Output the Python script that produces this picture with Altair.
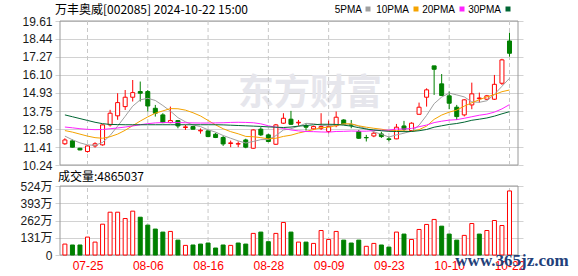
import json
import altair as alt
import pandas as pd

# ---------------- data ----------------
dates = ["07-22","07-23","07-24","07-25","07-26","07-29","07-30","07-31","08-01","08-02",
         "08-05","08-06","08-07","08-08","08-09","08-12","08-13","08-14","08-15","08-16",
         "08-19","08-20","08-21","08-22","08-23","08-26","08-27","08-28","08-29","08-30",
         "09-02","09-03","09-04","09-05","09-06","09-09","09-10","09-11","09-12","09-13",
         "09-18","09-19","09-20","09-23","09-24","09-25","09-26","09-27","09-30","10-08",
         "10-09","10-10","10-11","10-14","10-15","10-16","10-17","10-18","10-21","10-22"]

opens = [11.62,11.81,11.33,11.12,11.48,11.55,12.85,13.44,14.04,14.65,
         15.02,15.02,13.93,13.50,13.00,13.13,12.68,12.74,12.46,12.46,
         12.24,12.03,11.64,11.60,11.87,11.33,12.57,12.20,11.59,12.96,
         13.22,12.98,12.80,12.59,12.63,12.42,12.80,13.17,12.87,12.42,
         12.03,12.13,12.26,11.94,11.94,12.78,12.48,13.54,14.65,16.69,
         15.52,14.74,14.00,13.50,14.15,14.56,14.52,14.52,15.56,18.31]
highs = [11.98,11.90,11.36,11.53,11.72,12.88,13.83,14.91,15.12,15.77,
         15.67,15.12,14.15,13.61,14.04,13.17,12.85,12.76,12.62,12.52,
         12.33,12.13,11.83,11.78,11.95,12.56,12.70,12.27,12.91,13.61,
         13.76,13.17,12.96,12.80,13.61,13.13,13.72,13.22,13.17,12.52,
         12.20,12.42,12.40,12.09,12.91,13.11,13.02,14.30,15.23,16.69,
         16.16,15.02,14.15,14.52,15.60,14.95,14.80,16.10,17.15,18.85]
lows = [11.55,11.38,11.20,11.05,11.37,11.50,12.74,13.18,13.82,14.37,
        14.37,13.72,13.39,12.96,12.96,12.63,12.52,12.55,12.28,12.05,
        11.99,11.48,11.40,11.40,11.33,11.30,12.13,11.72,11.55,12.91,
        12.85,12.80,12.48,12.52,12.52,12.31,12.70,12.85,12.63,11.94,
        11.77,12.05,12.00,11.78,11.92,12.46,12.40,13.54,14.04,14.80,
        14.76,13.87,13.17,13.40,13.87,14.30,14.47,14.47,15.45,17.29]
closes = [11.87,11.40,11.22,11.48,11.62,12.85,13.61,14.30,14.65,14.95,
          14.91,14.08,13.61,13.00,13.13,12.78,12.72,12.57,12.50,12.09,
          12.03,11.61,11.68,11.63,11.40,12.52,12.20,11.77,12.85,13.28,
          12.89,13.02,12.70,12.74,12.74,12.74,13.35,12.89,12.83,11.98,
          12.01,12.31,12.09,11.90,12.70,12.57,12.96,14.00,15.13,16.47,
          14.76,14.26,13.39,14.48,14.87,14.60,14.74,15.49,17.08,17.51]

ma5 = [12.12,11.88,11.68,11.55,11.52,11.71,12.16,12.77,13.41,14.07,
       14.48,14.58,14.44,14.11,13.75,13.32,13.05,12.84,12.74,12.53,
       12.38,12.16,11.98,11.81,11.67,11.77,11.89,11.90,12.15,12.52,
       12.60,12.76,12.95,12.93,12.82,12.79,12.85,12.89,12.91,12.76,
       12.61,12.40,12.24,12.06,12.20,12.31,12.44,12.83,13.47,14.23,
       14.66,14.92,14.80,14.67,14.35,14.32,14.42,14.84,15.36,15.88]
ma10 = [12.48,12.38,12.25,12.12,12.02,11.98,12.08,12.25,12.50,12.80,
        13.10,13.37,13.61,13.76,13.91,13.90,13.81,13.64,13.43,13.14,
        12.85,12.60,12.41,12.27,12.10,12.08,12.02,11.94,11.98,12.10,
        12.18,12.32,12.43,12.54,12.67,12.69,12.81,12.92,12.92,12.79,
        12.70,12.63,12.57,12.48,12.48,12.46,12.42,12.54,12.77,13.21,
        13.49,13.68,13.81,14.07,14.29,14.49,14.67,14.82,15.01,15.12]
ma20 = [12.71,12.66,12.60,12.56,12.54,12.55,12.60,12.65,12.71,12.78,
        12.86,12.93,12.98,13.00,13.00,13.00,12.99,12.98,12.97,12.97,
        12.98,12.99,13.01,13.02,13.01,12.99,12.92,12.79,12.70,12.62,
        12.52,12.46,12.42,12.41,12.39,12.38,12.42,12.43,12.45,12.44,
        12.44,12.48,12.50,12.51,12.58,12.58,12.62,12.73,12.84,13.00,
        13.09,13.16,13.19,13.28,13.38,13.48,13.55,13.68,13.89,14.17]
ma30 = [13.50,13.38,13.26,13.14,13.02,12.93,12.88,12.87,12.86,12.86,
        12.86,12.86,12.86,12.86,12.86,12.86,12.86,12.86,12.86,12.86,
        12.86,12.85,12.83,12.81,12.79,12.77,12.75,12.72,12.70,12.68,
        12.71,12.77,12.81,12.86,12.89,12.89,12.88,12.83,12.77,12.67,
        12.58,12.52,12.47,12.43,12.42,12.41,12.42,12.47,12.55,12.70,
        12.79,12.88,12.94,13.03,13.15,13.22,13.30,13.42,13.57,13.71]

vol_wan = [83,76,76,136,98,234,325,325,277,333,
           287,227,197,174,179,113,73,76,83,91,
           53,76,73,91,83,164,174,101,164,247,
           174,98,98,88,186,118,179,113,91,113,
           66,88,76,60,174,159,118,194,232,270,
           219,159,113,149,239,159,186,262,224,486.5]
vol_up = [1,0,0,1,1,1,1,1,1,1,
          0,0,0,0,1,0,1,0,0,0,
          0,0,1,0,0,1,0,0,1,1,
          0,1,0,1,1,1,1,0,0,0,
          1,1,0,0,1,0,1,1,1,1,
          0,0,0,1,1,0,1,1,1,1]

price_ticks = [10.24, 11.41, 12.58, 13.75, 14.93, 16.10, 17.27, 18.44, 19.61]
vol_ticks = [0, 131, 262, 393, 524]
label_idx = [3, 11, 19, 27, 35, 43, 51, 59]
ma_names = ["5PMA", "10PMA", "20PMA", "30PMA"]
title_text = "万丰奥威[002085] 2024-10-22 15:00"
vol_title = "成交量:4865037"
watermark = "东方财富"
site_mark = "www.365jz.com"

# ---------------- styling ----------------
RED = "#ff0000"
GREEN = "#008000"
MA_COLORS = ["#a0a0a0", "#f5a300", "#ff22ff", "#006633"]
GRID = "#d2d2d2"
FRAME = "#9a9a9a"
NUM_FONT = "Liberation Sans"
CJK_FONT = "Noto Sans CJK SC"

W, H = 468, 234
X_DOMAIN = [-0.649, 60.13]

n = len(dates)
df = pd.DataFrame({
    "i": list(range(n)), "open": opens, "high": highs, "low": lows, "close": closes,
    "vol": vol_wan, "vup": vol_up,
    "ma5": ma5, "ma10": ma10, "ma20": ma20, "ma30": ma30,
})
grid_df = pd.DataFrame({"i": label_idx, "plo": price_ticks[0], "phi": price_ticks[-1],
                        "vlo": vol_ticks[0], "vhi": vol_ticks[-1]})
frame_df = pd.DataFrame({"x0": [X_DOMAIN[0]], "x1": [X_DOMAIN[1]],
                         "plo": [price_ticks[0]], "phi": [price_ticks[-1]],
                         "vlo": [vol_ticks[0]], "vhi": [vol_ticks[-1]]})

x_axis = alt.Axis(values=label_idx, labelExpr=f"{json.dumps(dates)}[datum.value]",
                  grid=False, domain=False, ticks=False, labelPadding=5,
                  labelColor=RED, labelFontSize=12, labelFont=NUM_FONT,
                  labelFlush=False, labelOverlap=False, title=None)
xscale = alt.Scale(domain=X_DOMAIN, nice=False, zero=False)


def X(field):
    return alt.X(f"{field}:Q", scale=xscale, axis=x_axis)


price_axis = alt.Axis(values=price_ticks, format=".2f", grid=True, gridColor=GRID,
                      domain=False, ticks=False, labelPadding=3, labelFontSize=12,
                      labelFont=NUM_FONT, labelColor="#1a1a1a", title=None,
                      labelOverlap=False, orient="left")
pscale = alt.Scale(domain=[price_ticks[0], price_ticks[-1]], range=[144, 0],
                   nice=False, zero=False)


def PY(field):
    return alt.Y(f"{field}:Q", scale=pscale, axis=price_axis)


vol_axis = alt.Axis(values=vol_ticks,
                    labelExpr="datum.value == 0 ? '0' : datum.value + '万'",
                    grid=True, gridColor=GRID, domain=False, ticks=False,
                    labelPadding=3, labelFontSize=12, labelFont=NUM_FONT + ", " + CJK_FONT,
                    labelColor="#1a1a1a", title=None, labelOverlap=False, orient="left")
vscale = alt.Scale(domain=[vol_ticks[0], vol_ticks[-1]], range=[234, 165],
                   nice=False, zero=False)


def VY(field):
    return alt.Y(f"{field}:Q", scale=vscale, axis=vol_axis)


up_cond = alt.datum.close >= alt.datum.open
stroke_c = alt.when(up_cond).then(alt.value(RED)).otherwise(alt.value(GREEN))
fill_c = alt.when(up_cond).then(alt.value("#ffffff")).otherwise(alt.value(GREEN))
vstroke = alt.when(alt.datum.vup == 1).then(alt.value(RED)).otherwise(alt.value(GREEN))
vfill = alt.when(alt.datum.vup == 1).then(alt.value("#ffffff")).otherwise(alt.value(GREEN))

base = alt.Chart(df)

# ---------------- price panel ----------------
p_frame = alt.Chart(frame_df).mark_rect(fill="transparent", stroke=FRAME, strokeWidth=1).encode(
    x=X("x0"), x2="x1:Q", y=PY("plo"), y2="phi:Q")
p_vgrid = alt.Chart(grid_df).mark_rule(color="#c8c8c8", strokeDash=[4, 3], strokeWidth=1).encode(
    x=X("i"), y=PY("plo"), y2="phi:Q")
wicks = base.mark_rule(strokeWidth=1).encode(x=X("i"), y=PY("low"), y2="high:Q", color=stroke_c)
bodies = base.mark_bar(width=4, strokeWidth=1).encode(
    x=X("i"), y=PY("open"), y2="close:Q", fill=fill_c, stroke=stroke_c)
ma_lines = [
    base.mark_line(strokeWidth=1, color=c, interpolate="linear").encode(x=X("i"), y=PY(f))
    for f, c in zip(["ma5", "ma10", "ma20", "ma30"], MA_COLORS)
]
price_group = alt.layer(p_frame, p_vgrid, wicks, bodies, *ma_lines)

# ---------------- volume panel ----------------
v_frame = alt.Chart(frame_df).mark_rect(fill="transparent", stroke=FRAME, strokeWidth=1).encode(
    x=X("x0"), x2="x1:Q", y=VY("vlo"), y2="vhi:Q")
v_vgrid = alt.Chart(grid_df).mark_rule(color="#c8c8c8", strokeDash=[4, 3], strokeWidth=1).encode(
    x=X("i"), y=VY("vlo"), y2="vhi:Q")
vbars = base.mark_bar(width=4, strokeWidth=1).encode(
    x=X("i"), y=VY("vol"), y2=alt.datum(0), fill=vfill, stroke=vstroke)
vol_group = alt.layer(v_frame, v_vgrid, vbars)


# ---------------- text annotations ----------------
def label(text, x, y, align="left", size=12, font=CJK_FONT, color="#000000", weight="normal"):
    return alt.Chart(pd.DataFrame({"t": [text]})).mark_text(
        align=align, baseline="middle", fontSize=size, font=font, color=color,
        fontWeight=weight).encode(x=alt.value(x), y=alt.value(y), text="t:N")


wm = label(watermark, 255, 73, align="center", size=36, color="#e6e6ec", weight="bold")
title = label(title_text, 0, -11.5)
vtitle = label(vol_title, 3, 156)
site = label(site_mark, 457, 240, align="center", size=17, font="Liberation Serif",
             color="#22407a", weight="bold")

legend_layers = []
text_right = [307, 354, 400, 446]
square_x = [313, 361, 407, 453]
for name, c, tx, sx in zip(ma_names, MA_COLORS, text_right, square_x):
    legend_layers.append(label(name, tx, -11.5, align="right", size=10, font=NUM_FONT))
    legend_layers.append(
        alt.Chart(pd.DataFrame({"t": [name]})).mark_square(size=25, color=c, opacity=1)
        .encode(x=alt.value(sx), y=alt.value(-12)))

chart = alt.layer(wm, price_group, vol_group, title, vtitle, *legend_layers, site).resolve_scale(
    y="independent"
).properties(
    width=W, height=H,
    autosize=alt.AutoSizeParams(type="none"),
    padding={"left": 55, "top": 21, "right": 55, "bottom": 21},
    background="#ffffff",
).configure_view(stroke=None)

chart.save("out.html", embed_options={"renderer": "svg", "actions": False})
